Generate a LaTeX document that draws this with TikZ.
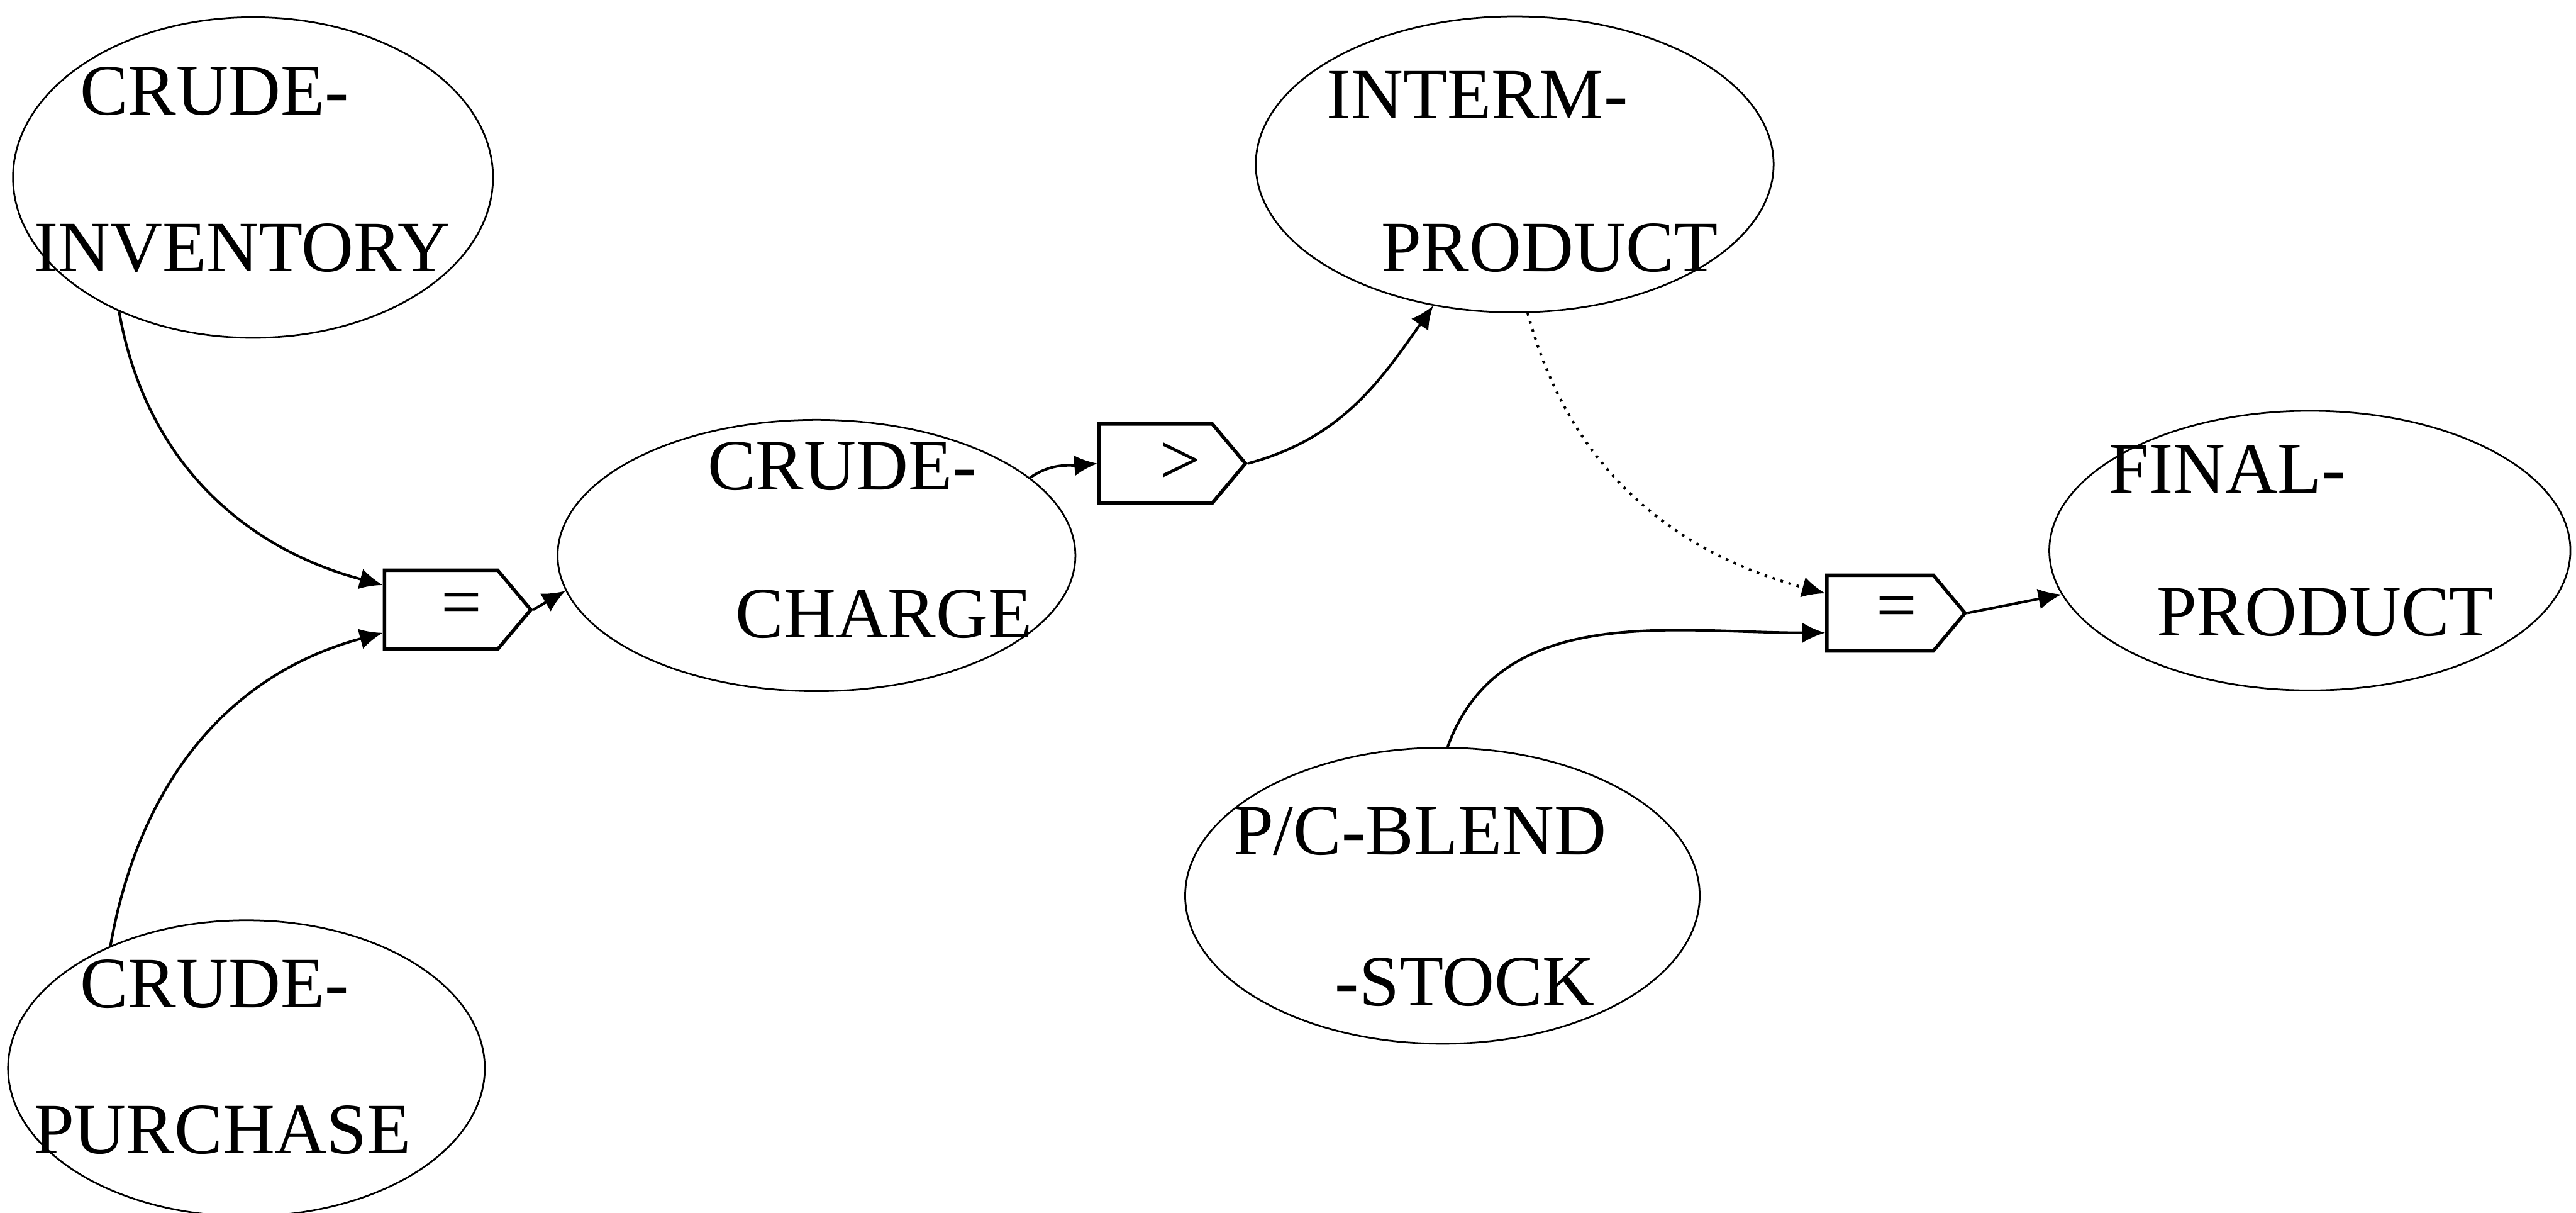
\documentclass[tikz,border=0pt]{standalone}
\usepackage{fontspec}
\setmainfont{Liberation Serif}
\usetikzlibrary{shapes.geometric}
\usetikzlibrary{shapes.symbols}
\usetikzlibrary{arrows.meta}
\tikzset{entity/.style={ellipse, draw, line width=0.3pt, inner sep=0pt}}
\tikzset{oper/.style={signal, signal to=east, signal pointer angle=100, draw, line width=0.6pt, inner sep=0pt, anchor=west, minimum width=0.89cm, minimum height=0.48cm, font=\fontsize{12.5}{14}\selectfont}}
\tikzset{lab/.style={anchor=base west, inner sep=0pt, font=\fontsize{12.5}{14}\selectfont}}
\tikzset{flow/.style={line width=0.45pt, -{Latex[length=4pt,width=3.6pt]}}}

\begin{document}
\begin{tikzpicture}[x=0.01cm,y=-0.01cm]
  \useasboundingbox (0,0) rectangle (1568,738);
  \foreach \x/\y/\w/\h/\name in {
    154/108/2.92/1.95/inv,
    150/650/2.90/1.80/pur,
    497/338/3.15/1.65/chg,
    922/100/3.15/1.80/int,
    1406/335/3.17/1.70/fin,
    878/545/3.13/1.80/bld%
  } {
    \node[entity, minimum width=\w cm, minimum height=\h cm] (\name) at (\x, \y) {};
  }
  \foreach \name/\xa/\ya/\ta/\xb/\yb/\tb in {
    inv/48/70/CRUDE-/20/165/INVENTORY,
    pur/48/613/CRUDE-/20/702/PURCHASE,
    chg/430/298/CRUDE-/447/388/CHARGE,
    int/807/72/INTERM-/840/165/PRODUCT,
    fin/1283/300/FINAL-/1312/387/PRODUCT,
    bld/750/520/{P/C-BLEND}/812/612/-STOCK%
  } {
    \node[lab] (\name-top) at (\xa, \ya) {\ta};
    \node[lab] (\name-bot) at (\xb, \yb) {\tb};
  }
  \node[oper] (op1) at (233,371) {\hspace{0.25cm}=};
  \node[oper] (op2) at (668,282) {\hspace{0.3cm}>};
  \node[oper, minimum width=0.84cm, minimum height=0.46cm] (op3) at (1111,373) {\hspace{0.2cm}=};

  \draw[flow] (inv.225) to[out=-80, in=165] ([yshift=0.15cm]op1.west);
  \draw[flow] (pur.138) to[out=80, in=195] ([yshift=-0.14cm]op1.west);
  \draw[flow] (op1.east) -- (chg.188);
  \draw[flow] (chg.20) to[out=35, in=185] (op2.west);
  \draw[flow] (op2.east) to[out=15, in=235] (int.240);
  \draw[flow, densely dotted] (int.275) to[out=-75, in=165] ([yshift=0.12cm]op3.west);
  \draw[flow] (bld.88) to[out=70, in=180] ([yshift=-0.12cm]op3.west);
  \draw[flow] (op3.east) -- (fin.190);
\end{tikzpicture}
\end{document}
